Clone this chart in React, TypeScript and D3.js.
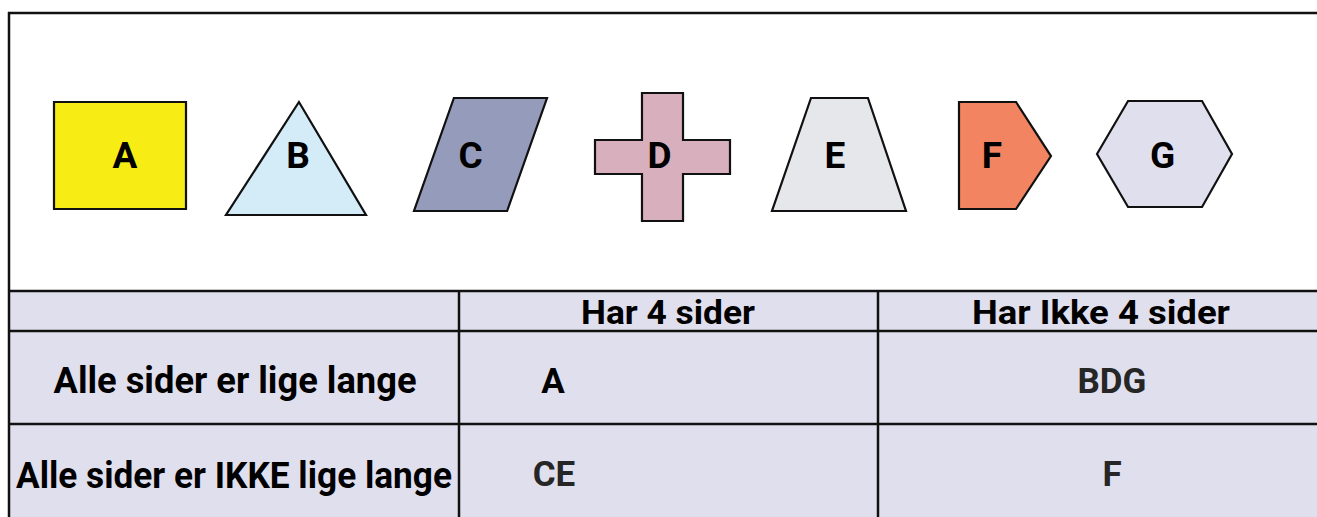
import React, { useEffect, useRef } from "react";
import * as d3 from "d3";

// ---- content ----
const shapeLabels = ["A", "B", "C", "D", "E", "F", "G"];
const shapeKinds = ["rect", "triangle", "parallelogram", "cross", "trapezoid", "pentagon", "hexagon"];
const shapeColors = ["#F7EC13", "#D4EBF8", "#959BBB", "#D8AFBC", "#E6E7EB", "#F28462", "#E0DFEE"];
const colLabels = ["Har 4 sider", "Har Ikke 4 sider"];
const rowLabels = ["Alle sider er lige lange", "Alle sider er IKKE lige lange"];
const cellValues = [
  ["A", "BDG"],
  ["CE", "F"],
];
const cellColors = [
  ["#000", "#262626"],
  ["#262626", "#262626"],
];

// ---- layout (normalized unit geometry per shape kind) ----
const W = 1317;
const H = 517;
const FONT = "Roboto, 'Open Sans', sans-serif";

type Geo = { box: [number, number, number, number]; pts: [number, number][]; labelDx: number };
const geometry: Record<string, Geo> = {
  rect: { box: [54, 102, 132, 107], pts: [[0, 0], [1, 0], [1, 1], [0, 1]], labelDx: 5 },
  triangle: { box: [226, 102, 140, 113], pts: [[0.521, 0], [1, 1], [0, 1]], labelDx: 2 },
  parallelogram: { box: [414, 98, 133, 113], pts: [[0.3, 0], [1, 0], [0.7, 1], [0, 1]], labelDx: -10 },
  cross: {
    box: [595, 93, 135, 128],
    pts: [
      [0.348, 0], [0.652, 0], [0.652, 0.367], [1, 0.367], [1, 0.633], [0.652, 0.633],
      [0.652, 1], [0.348, 1], [0.348, 0.633], [0, 0.633], [0, 0.367], [0.348, 0.367],
    ],
    labelDx: -3,
  },
  trapezoid: { box: [772, 98, 134, 113], pts: [[0.291, 0], [0.716, 0], [1, 1], [0, 1]], labelDx: -4 },
  pentagon: { box: [959, 102, 92, 107], pts: [[0, 0], [0.62, 0], [1, 0.505], [0.62, 1], [0, 1]], labelDx: -13 },
  hexagon: { box: [1097, 101, 135, 106], pts: [[0, 0.5], [0.23, 0], [0.778, 0], [1, 0.5], [0.778, 1], [0.23, 1]], labelDx: -2 },
};

const tableTop = 291;
const tableLeft = 9;
const colEdges = [tableLeft, 459, 878, W];
const rowEdges = [tableTop, 331, 424, H];

export default function App() {
  const ref = useRef<SVGSVGElement | null>(null);

  useEffect(() => {
    const svg = d3.select(ref.current);
    svg.selectAll("*").remove();

    svg.append("rect").attr("width", W).attr("height", H).attr("fill", "#fff");

    // Shapes
    const line = d3.line<[number, number]>().curve(d3.curveLinearClosed);
    const g = svg.append("g");
    shapeLabels.forEach((lab, i) => {
      const geo = geometry[shapeKinds[i]];
      const [bx, by, bw, bh] = geo.box;
      const sx = d3.scaleLinear().domain([0, 1]).range([bx, bx + bw]);
      const sy = d3.scaleLinear().domain([0, 1]).range([by, by + bh]);
      const pts = geo.pts.map(([u, v]) => [sx(u), sy(v)] as [number, number]);
      g.append("path")
        .attr("d", line(pts))
        .attr("fill", shapeColors[i])
        .attr("stroke", "#111")
        .attr("stroke-width", 2.2)
        .attr("stroke-linejoin", "miter");
      g.append("text")
        .attr("x", bx + bw / 2 + geo.labelDx)
        .attr("y", 168)
        .attr("text-anchor", "middle")
        .attr("font-family", FONT)
        .attr("font-weight", 700)
        .attr("font-size", 37)
        .attr("fill", "#000")
        .text(lab);
    });

    // Table background
    svg.append("rect")
      .attr("x", tableLeft)
      .attr("y", tableTop)
      .attr("width", W - tableLeft)
      .attr("height", H - tableTop)
      .attr("fill", "#E0DFEE");

    // Table lines
    const tl = svg.append("g").attr("stroke", "#111").attr("stroke-width", 2.5);
    rowEdges.slice(0, 3).forEach((y) => {
      tl.append("line").attr("x1", tableLeft).attr("x2", W).attr("y1", y).attr("y2", y);
    });
    colEdges.slice(1, 3).forEach((x) => {
      tl.append("line").attr("x1", x).attr("x2", x).attr("y1", tableTop).attr("y2", H);
    });

    // Outer frame (top + left)
    const fr = svg.append("g").attr("stroke", "#111").attr("stroke-width", 2.5);
    fr.append("line").attr("x1", tableLeft - 1).attr("x2", W).attr("y1", 13).attr("y2", 13);
    fr.append("line").attr("x1", tableLeft).attr("x2", tableLeft).attr("y1", 12).attr("y2", H);

    // Headers
    const headerWidths = [174, 258];
    const headerCenters = [668, 1101];
    colLabels.forEach((lab, j) => {
      svg.append("text")
        .attr("x", headerCenters[j])
        .attr("y", 324)
        .attr("text-anchor", "middle")
        .attr("font-family", FONT)
        .attr("font-weight", 700)
        .attr("font-size", 34)
        .attr("fill", "#000")
        .attr("textLength", headerWidths[j])
        .attr("lengthAdjust", "spacingAndGlyphs")
        .text(lab);
    });

    // Row labels
    const rowLabelWidths = [363, 436];
    const rowBaselines = [393, 488];
    rowLabels.forEach((lab, i) => {
      svg.append("text")
        .attr("x", (colEdges[0] + colEdges[1]) / 2 + (i === 0 ? 1 : 0))
        .attr("y", rowBaselines[i])
        .attr("text-anchor", "middle")
        .attr("font-family", FONT)
        .attr("font-weight", 700)
        .attr("font-size", 36)
        .attr("fill", "#000")
        .attr("textLength", rowLabelWidths[i])
        .attr("lengthAdjust", "spacingAndGlyphs")
        .text(lab);
    });

    // Cell values
    const cellCenters = [553, 1112];
    cellValues.forEach((row, i) => {
      row.forEach((v, j) => {
        svg.append("text")
          .attr("x", cellCenters[j] + (i === 1 && j === 0 ? 1 : 0))
          .attr("y", rowBaselines[i] - (i === 1 ? 2 : 0))
          .attr("text-anchor", "middle")
          .attr("font-family", FONT)
          .attr("font-weight", 700)
          .attr("font-size", 35)
          .attr("fill", cellColors[i][j])
          .text(v);
      });
    });
  }, []);

  return (
    <div style={{ position: "absolute", left: 0, top: 0, width: W, height: H, overflow: "hidden" }}>
      <svg ref={ref} width={W} height={H} style={{ display: "block" }} />
    </div>
  );
}
